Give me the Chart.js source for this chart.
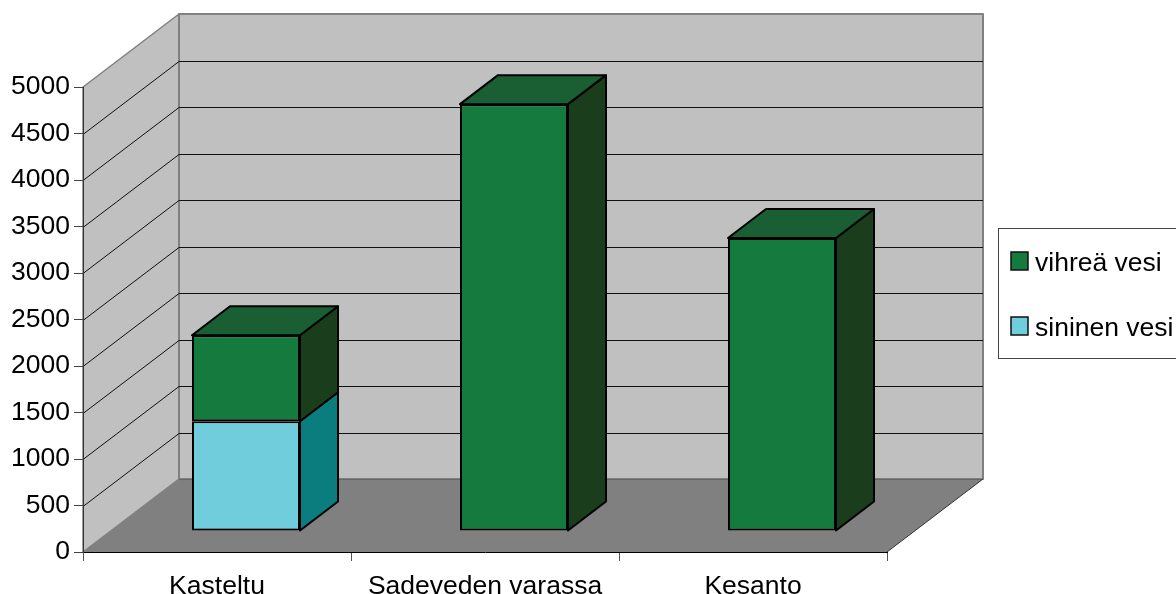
<!DOCTYPE html>
<html>
<head>
<meta charset="utf-8">
<style>
  html, body { margin: 0; padding: 0; background: #fff; overflow: hidden; }
  canvas { display: block; }
</style>
<script src="https://cdn.jsdelivr.net/npm/chart.js@4"></script>
</head>
<body>
<canvas id="chart" width="1176" height="594"></canvas>
<script>
const categories = ['Kasteltu', 'Sadeveden varassa', 'Kesanto'];
const sininenVesi = [1180, null, null];
const vihreaVesi = [925, 4590, 3150];
const yMax = 5000;
const yStep = 500;

const font = { family: "'Liberation Sans', Arial, sans-serif", size: 26.5 };
const fontCss = `${font.size}px ${font.family}`;

// depth of the whole box and of one bar, in pixels
const wallDepth = { x: 96, y: 73 };
const barDepth = { x: 38, y: 29 };
const barShift = { x: 29, y: 21 };

const shades = {
    sininen: { front: '#70cddc', side: '#0b7d7e', top: '#0b7d7e' },
    vihrea: { front: '#147a3e', side: '#1a3d1c', top: '#195f33' }
};

function fillPoly(ctx, pts, fill, stroke, lineWidth) {
    ctx.beginPath();
    pts.forEach((p, i) => (i ? ctx.lineTo(p[0], p[1]) : ctx.moveTo(p[0], p[1])));
    ctx.closePath();
    if (fill) {
        ctx.fillStyle = fill;
        ctx.fill();
    }
    if (stroke) {
        ctx.strokeStyle = stroke;
        ctx.lineWidth = lineWidth || 1;
        ctx.lineJoin = 'round';
        ctx.stroke();
    }
}

// walls, floor and grid behind the bars
const box3d = {
    id: 'box3d',
    beforeDraw(chart) {
        const { ctx, chartArea: a, scales } = chart;
        const dx = wallDepth.x, dy = wallDepth.y;
        ctx.save();
        fillPoly(ctx, [[a.left, a.top], [a.left + dx, a.top - dy], [a.left + dx, a.bottom - dy], [a.left, a.bottom]], '#c0c0c0', '#808080', 1.5);
        fillPoly(ctx, [[a.left + dx, a.top - dy], [a.right + dx, a.top - dy], [a.right + dx, a.bottom - dy], [a.left + dx, a.bottom - dy]], '#c0c0c0', '#808080', 2);

        ctx.strokeStyle = '#111';
        ctx.lineWidth = 1;
        scales.y.ticks.forEach(t => {
            if (t.value === 0 || t.value === yMax) return;
            const y = Math.round(scales.y.getPixelForValue(t.value)) + 0.5;
            ctx.beginPath();
            ctx.moveTo(a.left, y);
            ctx.lineTo(a.left + dx, y - dy);
            ctx.lineTo(a.right + dx, y - dy);
            ctx.stroke();
        });

        fillPoly(ctx, [[a.left, a.bottom], [a.left + dx, a.bottom - dy], [a.right + dx, a.bottom - dy], [a.right, a.bottom]], '#808080');
        ctx.strokeStyle = '#666';
        ctx.beginPath();
        ctx.moveTo(a.left + dx, a.bottom - dy + 0.5);
        ctx.lineTo(a.right + dx, a.bottom - dy + 0.5);
        ctx.stroke();
        ctx.strokeStyle = '#333';
        ctx.beginPath();
        ctx.moveTo(a.right, a.bottom);
        ctx.lineTo(a.right + dx, a.bottom - dy);
        ctx.stroke();
        ctx.restore();
    },
    // the library draws the front faces, just moved into the box
    beforeDatasetsDraw(chart) {
        chart.ctx.save();
        chart.ctx.translate(barShift.x, -barShift.y);
    },
    afterDatasetsDraw(chart) {
        const ctx = chart.ctx;
        const dx = barDepth.x, dy = barDepth.y;
        const topmost = {};
        chart.data.datasets.forEach((ds, d) => {
            chart.getDatasetMeta(d).data.forEach((bar, i) => {
                if (ds.data[i] === null) return;
                const l = bar.x - bar.width / 2, r = bar.x + bar.width / 2;
                fillPoly(ctx, [[r, bar.base], [r + dx, bar.base - dy], [r + dx, bar.y - dy], [r, bar.y]], ds.sideColor, '#000', 2);
                topmost[i] = { l, r, y: bar.y, color: ds.topColor };
            });
        });
        Object.values(topmost).forEach(t => {
            fillPoly(ctx, [[t.l, t.y], [t.l + dx, t.y - dy], [t.r + dx, t.y - dy], [t.r, t.y]], t.color, '#000', 2);
        });
        ctx.restore();
    },
    afterDraw(chart) {
        const ctx = chart.ctx;
        ctx.save();
        ctx.fillStyle = '#fff';
        ctx.strokeStyle = '#444';
        ctx.lineWidth = 1;
        ctx.fillRect(998, 228, 190, 130);
        ctx.strokeRect(998.5, 228.5, 190, 130);
        ctx.font = fontCss;
        ctx.textBaseline = 'alphabetic';
        // top of the stack first, as in the original legend
        chart.data.datasets.slice().reverse().forEach((ds, i) => {
            const y = 252 + i * 65;
            ctx.fillStyle = ds.backgroundColor;
            ctx.fillRect(1011, y, 17, 18);
            ctx.strokeStyle = '#111';
            ctx.lineWidth = 1.5;
            ctx.strokeRect(1011, y, 17, 18);
            ctx.fillStyle = '#000';
            ctx.fillText(ds.label, 1035, y + 19);
        });
        ctx.restore();
    }
};

Chart.defaults.animation = false;
Chart.defaults.font.family = font.family;
Chart.defaults.font.size = font.size;
Chart.defaults.color = '#000';

new Chart(document.getElementById('chart'), {
    type: 'bar',
    data: {
        labels: categories,
        datasets: [{
            label: 'sininen vesi',
            data: sininenVesi,
            backgroundColor: shades.sininen.front,
            sideColor: shades.sininen.side,
            topColor: shades.sininen.top
        }, {
            label: 'vihreä vesi',
            data: vihreaVesi,
            backgroundColor: shades.vihrea.front,
            sideColor: shades.vihrea.side,
            topColor: shades.vihrea.top
        }]
    },
    options: {
        responsive: false,
        devicePixelRatio: 1,
        layout: { padding: { top: 87, right: 289, left: 0, bottom: 0 } },
        datasets: {
            bar: {
                borderColor: '#000',
                borderWidth: 2,
                borderSkipped: false,
                barPercentage: 0.403,
                categoryPercentage: 1,
                clip: false
            }
        },
        plugins: { legend: { display: false }, tooltip: { enabled: false } },
        scales: {
            x: {
                stacked: true,
                afterFit(scale) { scale.height = 42; },
                border: { color: '#000', width: 1 },
                grid: { drawOnChartArea: false, tickLength: 9, tickColor: '#555' },
                ticks: { padding: 10, maxRotation: 0, autoSkip: false }
            },
            y: {
                stacked: true,
                min: 0,
                max: yMax,
                afterFit(scale) { scale.width = 83; },
                border: { color: '#333', width: 1 },
                grid: { drawOnChartArea: false, tickLength: 9, tickColor: '#444' },
                ticks: { stepSize: yStep, padding: 4, format: { useGrouping: false } }
            }
        }
    },
    plugins: [box3d]
});
</script>
</body>
</html>
